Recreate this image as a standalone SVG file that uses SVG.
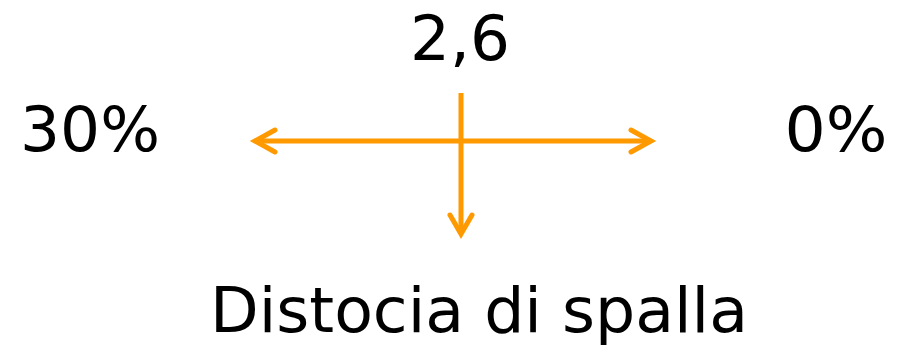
<svg xmlns="http://www.w3.org/2000/svg" width="897" height="348" viewBox="0 0 897 348">
<style>
text{font-family:"DejaVu Sans",Verdana,sans-serif;font-size:62px;fill:#000}
.ln{stroke:#FF9900;stroke-width:5;fill:none;stroke-linecap:butt}
.hd{stroke:#FF9900;stroke-width:5;fill:none;stroke-linecap:round;stroke-linejoin:miter}
</style>
<rect width="897" height="348" fill="#fff"/>
<g id="top"><text x="460" y="60" text-anchor="middle" textLength="100" lengthAdjust="spacingAndGlyphs">2,6</text></g>
<g id="left"><text x="90" y="151" text-anchor="middle" textLength="140" lengthAdjust="spacingAndGlyphs">30%</text></g>
<g id="right"><text x="836" y="151" text-anchor="middle" textLength="103" lengthAdjust="spacingAndGlyphs">0%</text></g>
<g id="bottom"><text x="479" y="332" font-size="60" text-anchor="middle" textLength="538" lengthAdjust="spacingAndGlyphs">Distocia di spalla</text></g>
<g id="connectors">
<line class="ln" x1="256" y1="141" x2="650" y2="141"/>
<line class="ln" x1="461" y1="93" x2="461" y2="233"/>
<polyline class="hd" points="275,130 255,141 275,152"/>
<polyline class="hd" points="631,130 651,141 631,152"/>
<polyline class="hd" points="450,215 461,234 472,215"/>
</g>
</svg>
